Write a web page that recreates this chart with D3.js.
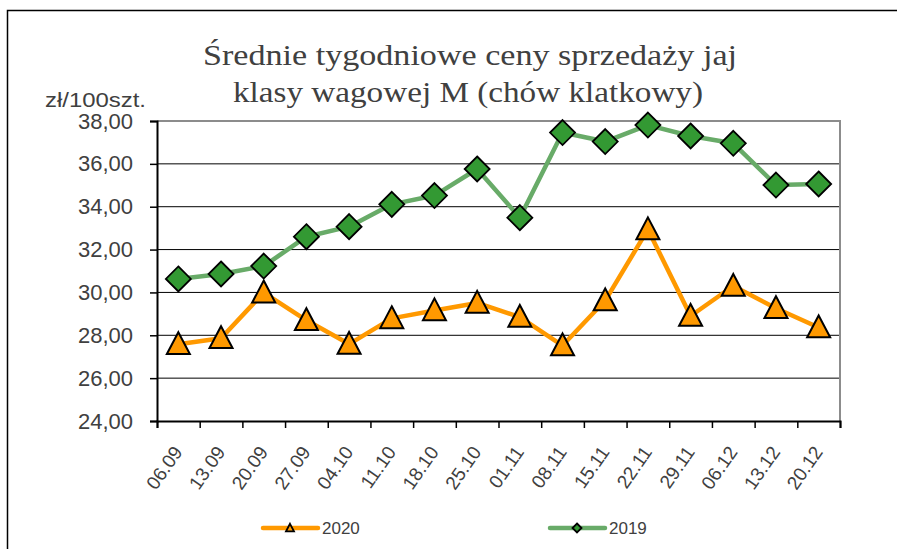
<!DOCTYPE html>
<html>
<head>
<meta charset="utf-8">
<script src="https://cdn.jsdelivr.net/npm/d3@7"></script>
<style>
  body { margin: 0; background: #fff; }
  svg { display: block; }
</style>
</head>
<body>
<svg id="chart" width="897" height="549"></svg>
<script>
// Week labels (x axis categories)
const weeks = ["06.09", "13.09", "20.09", "27.09", "04.10", "11.10", "18.10", "25.10",
  "01.11", "08.11", "15.11", "22.11", "29.11", "06.12", "13.12", "20.12"];

// Prices zł/100szt.
const prices2020 = [27.58, 27.86, 29.99, 28.70, 27.59, 28.79, 29.16, 29.51,
  28.85, 27.52, 29.62, 32.94, 28.90, 30.30, 29.26, 28.36];
const prices2019 = [30.63, 30.86, 31.23, 32.60, 33.07, 34.11, 34.52, 35.76,
  33.49, 37.46, 37.04, 37.81, 37.30, 36.96, 35.01, 35.06];

const yTicks = [24, 26, 28, 30, 32, 34, 36, 38];
const titleLines = ["Średnie tygodniowe ceny sprzedaży jaj", "klasy wagowej M (chów klatkowy)"];
const unitLabel = "zł/100szt.";
const legendLabels = ["2020", "2019"];

const orange = "#FF9900", greenLine = "#68AB68", greenFill = "#339933";
const textColor = "#404040";

const svg = d3.select("#chart");

// Outer frame (only top and left edges are visible)
svg.append("rect")
  .attr("x", 7.5).attr("y", 10.5)
  .attr("width", 1000).attr("height", 700)
  .attr("fill", "none")
  .attr("stroke", "#000")
  .attr("stroke-width", 1.5);

// Plot area
const plot = {left: 157, right: 840, top: 121, bottom: 421};

const x = d3.scaleBand()
  .domain(weeks)
  .range([plot.left, plot.right]);

const xEdges = d3.scaleLinear()
  .domain([0, weeks.length])
  .range([plot.left, plot.right]);

const y = d3.scaleLinear()
  .domain([24, 38])
  .range([plot.bottom, plot.top]);

// Horizontal grid lines
svg.append("g")
  .selectAll("line")
  .data(yTicks.slice(1, -1))
  .join("line")
  .attr("x1", plot.left).attr("x2", plot.right)
  .attr("y1", d => y(d)).attr("y2", d => y(d))
  .attr("stroke", "#000")
  .attr("stroke-width", 1);

// Top and right border of plot area (gray)
svg.append("path")
  .attr("d", `M${plot.left},${y(38)}H${plot.right}V${plot.bottom}`)
  .attr("fill", "none")
  .attr("stroke", "#8c8c8c")
  .attr("stroke-width", 2);

// Y axis
const yAxis = svg.append("g")
  .attr("transform", `translate(${plot.left},0)`)
  .call(d3.axisLeft(y)
    .tickValues(yTicks)
    .tickSize(7)
    .tickPadding(17)
    .tickFormat(d => d.toFixed(2).replace(".", ",")));
yAxis.select(".domain").attr("stroke", "#000").attr("stroke-width", 2);
yAxis.selectAll(".tick line").attr("stroke", "#000").attr("stroke-width", 1.5);
yAxis.selectAll(".tick text")
  .attr("fill", textColor)
  .style("font-family", "'Liberation Sans', Arial, sans-serif")
  .style("font-size", "22px");

// X axis (ticks on category boundaries)
const xAxis = svg.append("g")
  .attr("transform", `translate(0,${plot.bottom})`)
  .call(d3.axisBottom(xEdges)
    .ticks(weeks.length)
    .tickSize(7)
    .tickFormat(""));
xAxis.select(".domain").attr("stroke", "#000").attr("stroke-width", 2);
xAxis.selectAll(".tick line").attr("stroke", "#000").attr("stroke-width", 1.5);

// Rotated week labels
svg.append("g")
  .selectAll("text")
  .data(weeks)
  .join("text")
  .attr("transform", d => `translate(${x(d) + x.bandwidth() / 2 + 5},${plot.bottom + 31}) rotate(-55)`)
  .attr("text-anchor", "end")
  .attr("fill", textColor)
  .style("font-family", "'Liberation Sans', Arial, sans-serif")
  .style("font-size", "19px")
  .text(d => d);

// Unit label
svg.append("text")
  .attr("x", 45).attr("y", 107)
  .attr("fill", textColor)
  .style("font-family", "'Liberation Sans', Arial, sans-serif")
  .style("font-size", "20px")
  .attr("textLength", 101)
  .attr("lengthAdjust", "spacingAndGlyphs")
  .text(unitLabel);

// Title
svg.append("g")
  .selectAll("text")
  .data(titleLines)
  .join("text")
  .attr("x", (d, i) => i === 0 ? 470 : 468)
  .attr("y", (d, i) => i === 0 ? 65 : 102)
  .attr("text-anchor", "middle")
  .attr("fill", textColor)
  .attr("textLength", (d, i) => i === 0 ? 534 : 470)
  .attr("lengthAdjust", "spacingAndGlyphs")
  .style("font-family", "'Liberation Serif', 'Times New Roman', serif")
  .style("font-size", "29px")
  .text(d => d);

// Lines
const line = d3.line()
  .x((d, i) => x(weeks[i]) + x.bandwidth() / 2)
  .y(d => y(d));

svg.append("path")
  .datum(prices2019)
  .attr("fill", "none")
  .attr("stroke", greenLine)
  .attr("stroke-width", 4.5)
  .attr("stroke-linejoin", "round")
  .attr("d", line);

svg.append("path")
  .datum(prices2020)
  .attr("fill", "none")
  .attr("stroke", orange)
  .attr("stroke-width", 4.5)
  .attr("stroke-linejoin", "round")
  .attr("d", line);

// Markers
const diamond = s => `M0,${-s}L${s},0L0,${s}L${-s},0Z`;
const triangle = s => `M0,${-s * 1.05}L${s},${s * 0.85}L${-s},${s * 0.85}Z`;

svg.append("g")
  .selectAll("path")
  .data(prices2019)
  .join("path")
  .attr("transform", (d, i) => `translate(${x(weeks[i]) + x.bandwidth() / 2},${y(d)})`)
  .attr("d", diamond(12.5))
  .attr("fill", greenFill)
  .attr("stroke", "#000")
  .attr("stroke-width", 1.8);

svg.append("g")
  .selectAll("path")
  .data(prices2020)
  .join("path")
  .attr("transform", (d, i) => `translate(${x(weeks[i]) + x.bandwidth() / 2},${y(d)})`)
  .attr("d", triangle(11.5))
  .attr("fill", orange)
  .attr("stroke", "#000")
  .attr("stroke-width", 2);

// Legend
const legendItems = [
  {label: legendLabels[0], x: 263, color: orange, marker: triangle(4), fill: orange},
  {label: legendLabels[1], x: 550, color: greenLine, marker: diamond(4.5), fill: greenFill}
];

const legend = svg.append("g")
  .selectAll("g")
  .data(legendItems)
  .join("g")
  .attr("transform", d => `translate(${d.x},528)`);

legend.append("line")
  .attr("x1", 0).attr("x2", 55)
  .attr("stroke", d => d.color)
  .attr("stroke-width", 4.5)
  .attr("stroke-linecap", "round");

legend.append("path")
  .attr("transform", "translate(27,0)")
  .attr("d", d => d.marker)
  .attr("fill", d => d.fill)
  .attr("stroke", "#000")
  .attr("stroke-width", 1.8);

legend.append("text")
  .attr("x", 59)
  .attr("y", 6)
  .attr("fill", textColor)
  .style("font-family", "'Liberation Sans', Arial, sans-serif")
  .style("font-size", "17px")
  .text(d => d.label);
</script>
</body>
</html>
